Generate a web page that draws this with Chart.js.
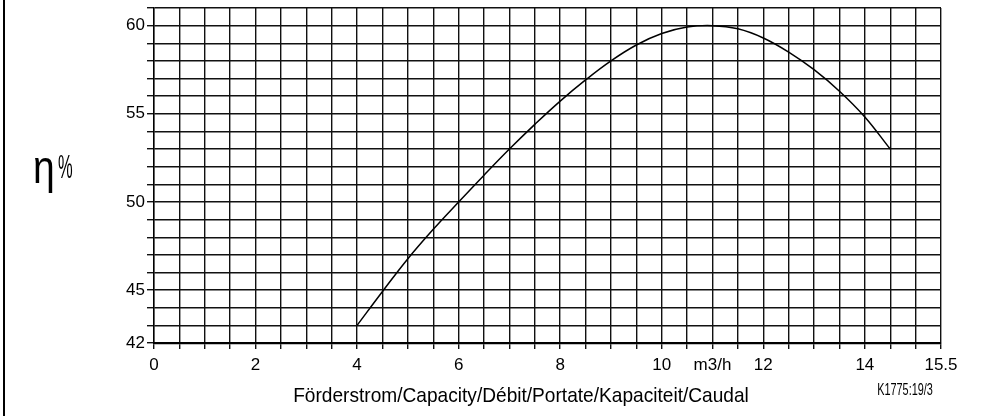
<!DOCTYPE html>
<html>
<head>
<meta charset="utf-8">
<script src="https://cdn.jsdelivr.net/npm/chart.js@4"></script>
<style>
  html, body { margin: 0; padding: 0; background: #fff; }
  #wrap { width: 1001px; height: 416px; }
</style>
</head>
<body>
<div id="wrap"><canvas id="etaChart" width="1001" height="416"></canvas></div>
<script>
// ====== data ======
const flow = [4, 4.5, 5, 5.5, 6, 6.5, 7, 7.5, 8, 8.5, 9, 9.5, 10, 10.5, 11, 11.5, 12, 12.5, 13, 13.5, 14, 14.5];
const efficiency = [43.0, 44.92, 46.78, 48.45, 50.0, 51.52, 53.0, 54.4, 55.72, 56.92, 58.0, 58.9, 59.55, 59.92, 60.0, 59.82, 59.3, 58.5, 57.5, 56.28, 54.82, 53.0];

// tick labels
const xTickValues = [0, 2, 4, 6, 8, 10, 11, 12, 14, 15.5];
const xTickTexts = ["0", "2", "4", "6", "8", "10", "m3/h", "12", "14", "15.5"];
const yTickValues = [42, 45, 50, 55, 60];

const FONT = "'Liberation Sans', Arial, sans-serif";

// texto comprimido horizontalmente
function narrowText(ctx, text, x, y, size, sx, align) {
  ctx.save();
  ctx.font = size + "px " + FONT;
  ctx.textAlign = align || "left";
  ctx.textBaseline = "alphabetic";
  ctx.translate(x, y);
  ctx.scale(sx, 1);
  ctx.fillText(text, 0, 0);
  ctx.restore();
}

const decor = {
  id: "decor",
  beforeDraw(chart) {
    const c = chart.ctx;
    c.save();
    c.fillStyle = "#fff";
    c.fillRect(0, 0, chart.width, chart.height);
    c.fillStyle = "#000";
    c.fillRect(3, 0, 2, chart.height); // borde izquierdo
    c.restore();
  },
  afterDraw(chart) {
    const c = chart.ctx;
    c.fillStyle = "#000";
    narrowText(c, "\u03b7", 33, 183, 46, 0.85, "left");
    narrowText(c, "%", 58, 178, 33, 0.5, "left");
    narrowText(c, "F\u00f6rderstrom/Capacity/D\u00e9bit/Portate/Kapaciteit/Caudal", 521, 402, 21, 0.91, "center");
    narrowText(c, "K1775:19/3", 905, 395, 16, 0.68, "center");
  }
};

new Chart(document.getElementById("etaChart"), {
  type: "line",
  data: {
    datasets: [{
      data: flow.map((q, i) => ({ x: q, y: efficiency[i] })),
      borderColor: "#000",
      borderWidth: 1.5,
      pointRadius: 0,
      fill: false,
      tension: 0.4
    }]
  },
  options: {
    responsive: false,
    animation: false,
    layout: { padding: { left: 0, right: 60, top: 8, bottom: 0 } },
    plugins: { legend: { display: false }, tooltip: { enabled: false } },
    scales: {
      x: {
        type: "linear",
        min: 0,
        max: 15.5,
        ticks: {
          stepSize: 0.5,
          autoSkip: false,
          maxRotation: 0,
          padding: 6,
          color: "#000",
          font: { family: FONT, size: 17 },
          callback: (v) => {
            const i = xTickValues.indexOf(v);
            return i >= 0 ? xTickTexts[i] : "";
          }
        },
        grid: { color: "#111", lineWidth: 1.4, tickLength: 6 },
        border: { color: "#000", width: 2.2 },
        afterFit(s) { s.height = 73; s.paddingRight = 0; }
      },
      y: {
        min: 42,
        max: 61,
        ticks: {
          stepSize: 1,
          autoSkip: false,
          padding: 2,
          color: "#000",
          font: { family: FONT, size: 17 },
          callback: (v) => (yTickValues.includes(v) ? String(v) : "")
        },
        grid: { color: "#111", lineWidth: 1.4, tickLength: 7 },
        border: { color: "#000", width: 1.4 },
        afterFit(s) { s.width = 154; s.paddingTop = 0; s.paddingBottom = 0; }
      }
    }
  },
  plugins: [decor]
});
</script>
</body>
</html>
